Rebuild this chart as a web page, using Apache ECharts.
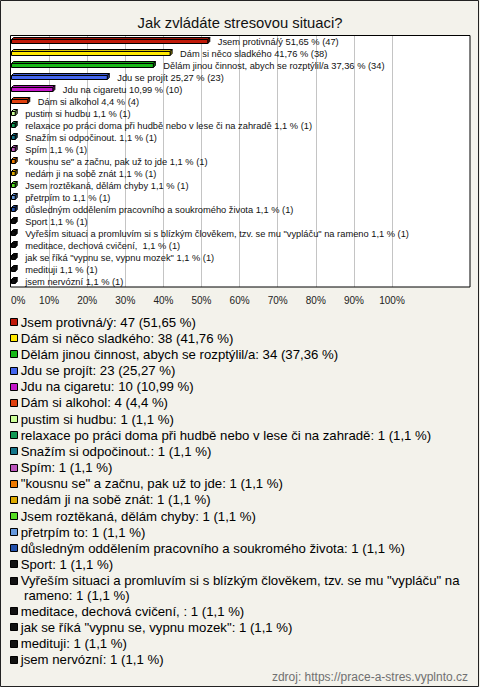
<!DOCTYPE html>
<html>
<head>
<meta charset="utf-8">
<script src="https://cdn.jsdelivr.net/npm/echarts@6/dist/echarts.min.js"></script>
<style>
html,body{margin:0;padding:0;background:#f3f2eb;}
#c{width:480px;height:687px;}
</style>
</head>
<body>
<div id="c"></div>
<script>
const titleText = 'Jak zvládáte stresovou situaci?';
const sourceText = 'zdroj: https://prace-a-stres.vyplnto.cz';

const categories = [
  'Jsem protivná/ý',
  'Dám si něco sladkého',
  'Dělám jinou činnost, abych se rozptýlil/a',
  'Jdu se projít',
  'Jdu na cigaretu',
  'Dám si alkohol',
  'pustim si hudbu',
  'relaxace po práci doma při hudbě nebo v lese či na zahradě',
  'Snažím si odpočinout.',
  'Spím',
  '"kousnu se" a začnu, pak už to jde',
  'nedám ji na sobě znát',
  'Jsem roztěkaná, dělám chyby',
  'přetrpím to',
  'důsledným oddělením pracovního a soukromého života',
  'Sport',
  'Vyřeším situaci a promluvím si s blízkým člověkem, tzv. se mu "vypláču" na rameno',
  'meditace, dechová cvičení, ',
  'jak se říká "vypnu se, vypnu mozek"',
  'medituji',
  'jsem nervózní'
];
const counts = [47, 38, 34, 23, 10, 4, 1, 1, 1, 1, 1, 1, 1, 1, 1, 1, 1, 1, 1, 1, 1];
const percents = [51.65, 41.76, 37.36, 25.27, 10.99, 4.4, 1.1, 1.1, 1.1, 1.1, 1.1, 1.1, 1.1, 1.1, 1.1, 1.1, 1.1, 1.1, 1.1, 1.1, 1.1];
const colors = [
  '#c01a0a', '#ffe800', '#18b818', '#4466ee', '#c416c8', '#e0400e',
  '#ccff99', '#119955', '#15768a', '#bb55bb', '#ee7a00', '#ddaa00',
  '#55dd22', '#6699dd', '#2250aa', '#111111', '#111111', '#111111',
  '#111111', '#111111', '#111111'
];
const xTickMin = 0, xTickMax = 100, xTickStep = 10;

const FONT = '"Liberation Sans", Arial, sans-serif';
const fmt = v => String(v).replace('.', ',');

function shade(hex, k) {
  const n = parseInt(hex.slice(1), 16);
  let r = (n >> 16) & 255, g = (n >> 8) & 255, b = n & 255;
  r = Math.round(r * k); g = Math.round(g * k); b = Math.round(b * k);
  return 'rgb(' + r + ',' + g + ',' + b + ')';
}

const chart = echarts.init(document.getElementById('c'), null, { renderer: 'svg' });

// legend graphics built from the data arrays
const legendFont = 13.2;
const legendWidth = 452;
const legendStep = 16.15;
const wrapStep = 14.5;
const measureCtx = document.createElement('canvas').getContext('2d');
measureCtx.font = legendFont + 'px ' + FONT;
function wrapLines(text) {
  const words = text.split(' ');
  const lines = [];
  let cur = '';
  for (const w of words) {
    const t = cur ? cur + ' ' + w : w;
    if (measureCtx.measureText(t).width > legendWidth && cur) { lines.push(cur); cur = w; }
    else cur = t;
  }
  lines.push(cur);
  return lines;
}
const legendGraphics = [];
let ly = 322.2;
categories.forEach((name, i) => {
  const txt = name + ': ' + counts[i] + ' (' + fmt(percents[i]) + ' %)';
  legendGraphics.push({
    type: 'rect', z: 50,
    shape: { x: 10.5, y: Math.round(ly) - 3.5, width: 7, height: 7 },
    style: { fill: colors[i], stroke: '#000', lineWidth: 1 }
  });
  const lines = wrapLines(txt);
  lines.forEach((ln, k) => {
    legendGraphics.push({
      type: 'text', z: 50, x: k === 0 ? 20.7 : 24, y: ly + k * wrapStep,
      style: {
        text: ln, font: legendFont + 'px ' + FONT, fill: '#000',
        verticalAlign: 'middle', align: 'left'
      }
    });
  });
  ly += legendStep + (lines.length - 1) * wrapStep;
});

const option = {
  backgroundColor: '#f3f2eb',
  animation: false,
  title: {
    text: titleText, left: 'center', top: 10,
    textStyle: { fontSize: 14.8, fontWeight: 'normal', color: '#111', fontFamily: FONT, lineHeight: 16 }
  },
  grid: { left: 11, top: 35, width: 381, height: 252, containLabel: false },
  xAxis: {
    type: 'value', min: xTickMin, max: xTickMax, interval: xTickStep,
    axisLine: { show: false }, axisTick: { show: false },
    splitLine: { show: true, showMinLine: false, lineStyle: { color: '#c4c4c4', width: 1 } },
    axisLabel: {
      formatter: '{value}%', fontSize: 10, color: '#222', fontFamily: FONT,
      margin: 8, alignMinLabel: 'left'
    }
  },
  yAxis: {
    type: 'category', data: categories, inverse: true,
    axisLine: { show: false }, axisTick: { show: false }, axisLabel: { show: false },
    splitLine: { show: false }
  },
  series: [{
    type: 'custom',
    clip: false,
    encode: { x: 0, y: 1 },
    data: percents.map((p, i) => [p, i]),
    renderItem: function (params, api) {
      const i = api.value(1);
      const v = api.value(0);
      const p0 = api.coord([0, i]);
      const p1 = api.coord([v, i]);
      const x0 = Math.round(p0[0]) + 0.5;
      const x1 = Math.max(p1[0], x0 + 3);
      const y = Math.round(p1[1]);
      const d = 2;
      const c = colors[i];
      const top = y - 1.5, bot = y + 2.5;
      return {
        type: 'group',
        children: [
          { type: 'polygon', shape: { points: [[x0, top], [x0 + d, top - d], [x1 + d, top - d], [x1, top]] },
            style: { fill: shade(c, 0.85), stroke: '#000', lineWidth: 1 } },
          { type: 'polygon', shape: { points: [[x1, top], [x1 + d, top - d], [x1 + d, bot - d], [x1, bot]] },
            style: { fill: shade(c, 0.6), stroke: '#000', lineWidth: 1 } },
          { type: 'rect', shape: { x: x0, y: top, width: x1 - x0, height: bot - top },
            style: { fill: c, stroke: '#000', lineWidth: 1 } },
          { type: 'text', x: p1[0] + 10, y: y + 0.5,
            style: { text: categories[i] + ' ' + fmt(percents[i]) + ' % (' + counts[i] + ')',
              font: '9.3px ' + FONT, fill: '#111', verticalAlign: 'middle', align: 'left' } }
        ]
      };
    }
  }],
  graphic: [
    { type: 'rect', z: -10, shape: { x: 11, y: 35, width: 459, height: 252 },
      style: { fill: '#ffffff' }, silent: true },
    { type: 'rect', z: 40, shape: { x: 10.5, y: 35.5, width: 459.5, height: 251.5 },
      style: { fill: 'none', stroke: '#000', lineWidth: 1 }, silent: true },
    { type: 'rect', z: 40, shape: { x: 0.5, y: 0.5, width: 478, height: 686 },
      style: { fill: 'none', stroke: '#222', lineWidth: 1 }, silent: true },
    { type: 'text', z: 50, x: 468, y: 677,
      style: { text: sourceText, font: '12px ' + FONT, fill: '#707070', align: 'right', verticalAlign: 'middle' } }
  ].concat(legendGraphics)
};
chart.setOption(option);
</script>
</body>
</html>
